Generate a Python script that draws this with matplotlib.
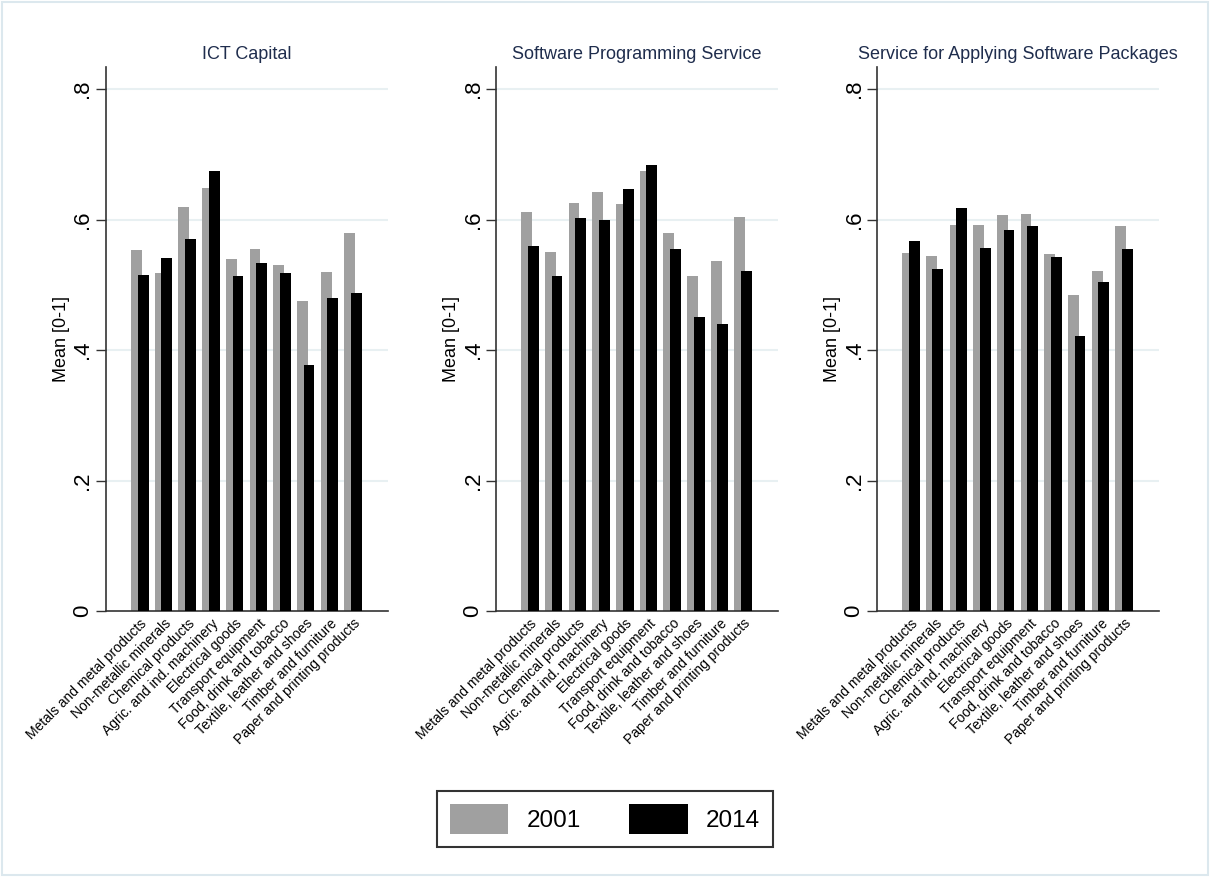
import matplotlib
matplotlib.use("Agg")
import matplotlib.pyplot as plt
from matplotlib.patches import Patch, Rectangle
import numpy as np

plt.rcParams['font.family'] = ['Liberation Sans', 'DejaVu Sans']

sectors = [
    "Metals and metal products",
    "Non-metallic minerals",
    "Chemical products",
    "Agric. and ind. machinery",
    "Electrical goods",
    "Transport equipment",
    "Food, drink and tobacco",
    "Textile, leather and shoes",
    "Timber and furniture",
    "Paper and printing products",
]
years = ["2001", "2014"]
panel_titles = ["ICT Capital", "Software Programming Service",
                "Service for Applying Software Packages"]

ict_2001 = [0.553, 0.518, 0.619, 0.649, 0.540, 0.555, 0.530, 0.475, 0.520, 0.579]
ict_2014 = [0.515, 0.541, 0.571, 0.674, 0.514, 0.533, 0.518, 0.377, 0.480, 0.487]
prog_2001 = [0.611, 0.550, 0.626, 0.643, 0.624, 0.674, 0.579, 0.514, 0.536, 0.604]
prog_2014 = [0.560, 0.514, 0.603, 0.600, 0.647, 0.683, 0.555, 0.450, 0.440, 0.521]
pack_2001 = [0.549, 0.544, 0.592, 0.592, 0.607, 0.608, 0.548, 0.484, 0.522, 0.591]
pack_2014 = [0.567, 0.525, 0.618, 0.557, 0.584, 0.590, 0.543, 0.421, 0.504, 0.555]

panels = [(ict_2001, ict_2014), (prog_2001, prog_2014), (pack_2001, pack_2014)]

c_2001 = "#a0a0a0"
c_2014 = "#000000"
title_col = "#1f2d4d"
grid_col = "#e8f0f2"

fig = plt.figure(figsize=(12.10, 8.77), dpi=100)

lefts = [0.0876, 0.410, 0.7248]
x = np.arange(len(sectors))
w = 0.46
off = 0.14

for left, title, (v01, v14) in zip(lefts, panel_titles, panels):
    ax = fig.add_axes([left, 0.3033, 0.233, 0.6203])
    ax.bar(x - off, v01, width=w, color=c_2001, zorder=2)
    ax.bar(x + off, v14, width=w, color=c_2014, zorder=3)
    ax.set_xlim(-1.43, 10.47)
    ax.set_ylim(0, 0.834)
    ax.set_yticks([0, 0.2, 0.4, 0.6, 0.8])
    ax.set_yticklabels(["0", ".2", ".4", ".6", ".8"], rotation=90,
                       va="center", fontsize=16)
    for yv in [0.2, 0.4, 0.6, 0.8]:
        ax.axhline(yv, color=grid_col, lw=1.5, zorder=1)
    ax.set_xticks(x)
    ax.set_xticklabels(sectors, rotation=45, ha="right", va="top",
                       rotation_mode="anchor", fontsize=10)
    ax.tick_params(axis="x", length=0, pad=4)
    ax.tick_params(axis="y", length=7, width=1, color="#333333", pad=2)
    for s in ["top", "right"]:
        ax.spines[s].set_visible(False)
    for s in ["left", "bottom"]:
        ax.spines[s].set_color("#333333")
        ax.spines[s].set_linewidth(1.2)
    ax.set_ylabel("Mean [0-1]", fontsize=13, labelpad=2)
    ax.set_title(title, fontsize=13, color=title_col, pad=6)

handles = [Patch(facecolor=c_2001, label=years[0]),
           Patch(facecolor=c_2014, label=years[1])]
leg = fig.legend(handles=handles, loc="center", bbox_to_anchor=(0.5, 0.066),
                 ncol=2, fontsize=17.5, frameon=True, fancybox=False,
                 handlelength=2.4, handleheight=1.5, handletextpad=0.75,
                 columnspacing=2.0, borderpad=0.55)
leg.get_frame().set_edgecolor("black")
leg.get_frame().set_linewidth(1.5)

# light outer frame around the whole graph
fig.patches.append(Rectangle((0.002, 0.002), 0.996, 0.996, transform=fig.transFigure,
                             fill=False, edgecolor="#dce8ee", lw=1.5))

fig.savefig("out.png", dpi=100)
